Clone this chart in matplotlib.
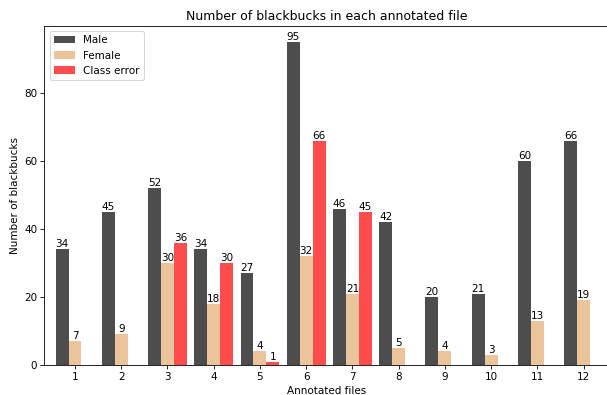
import numpy as np
import matplotlib
matplotlib.use("Agg")
import matplotlib.pyplot as plt

files = [1, 2, 3, 4, 5, 6, 7, 8, 9, 10, 11, 12]
male = [34, 45, 52, 34, 27, 95, 46, 42, 20, 21, 60, 66]
female = [7, 9, 30, 18, 4, 32, 21, 5, 4, 3, 13, 19]
class_error = [0, 0, 36, 30, 1, 66, 45, 0, 0, 0, 0, 0]

DPI = 75
fig = plt.figure(figsize=(607 / DPI, 395 / DPI), dpi=DPI)
ax = fig.add_axes([0.0733, 0.0759, 0.93, 0.8583])

x = np.array(files, dtype=float)
w = 0.28

b1 = ax.bar(x - w, male, w, color="#4d4d4d", label="Male")
b2 = ax.bar(x, female, w, color="#ebc49c", label="Female")
b3 = ax.bar(x + w, class_error, w, color="#ff4d4d", label="Class error")

for bars, vals in ((b1, male), (b2, female), (b3, class_error)):
    ax.bar_label(bars, labels=[str(v) if v else "" for v in vals], padding=0)

ax.set_xticks(x)
ax.set_xticklabels([str(f) for f in files])
ax.set_yticks([0, 20, 40, 60, 80])
ax.set_xlim(0.34, 12.55)
ax.set_ylim(0, 99.75)

ax.spines["right"].set_visible(False)

ax.set_xlabel("Annotated files")
ax.set_ylabel("Number of blackbucks")
ax.set_title("Number of blackbucks in each annotated file")
ax.legend(loc="upper left")

fig.savefig("out.png", dpi=DPI)
